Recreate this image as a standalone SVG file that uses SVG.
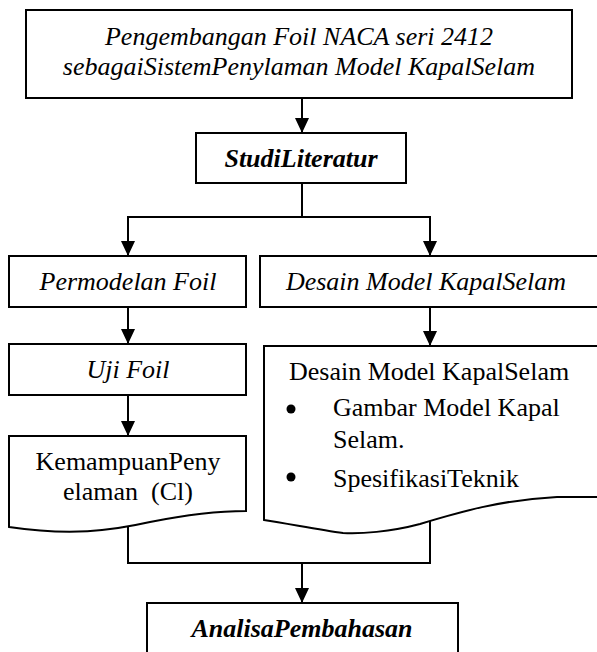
<svg xmlns="http://www.w3.org/2000/svg" width="597" height="652" viewBox="0 0 597 652">
<defs>
<style>
.box{fill:#fff;stroke:#000;stroke-width:2}
.ln{fill:none;stroke:#000;stroke-width:2}
text{font-family:"Liberation Serif","Times New Roman",serif;font-size:26px;fill:#000}
.it{font-style:italic}
.bi{font-style:italic;font-weight:bold}
.c{text-anchor:middle}
</style>
<marker id="ah" markerWidth="15" markerHeight="14" refX="15" refY="7" orient="auto" markerUnits="userSpaceOnUse" viewBox="0 0 15 14">
<path d="M0,0 L15,7 L0,14 Z" fill="#000"/>
</marker>
</defs>
<rect width="597" height="652" fill="#fff"/>
<g id="connectors">
<line class="ln" x1="302" y1="98" x2="302" y2="133" marker-end="url(#ah)"/>
<polyline class="ln" points="302,183 302,217"/>
<polyline class="ln" points="128,217 430,217"/>
<line class="ln" x1="128" y1="216" x2="128" y2="256" marker-end="url(#ah)"/>
<line class="ln" x1="430" y1="216" x2="430" y2="256" marker-end="url(#ah)"/>
<line class="ln" x1="128" y1="307" x2="128" y2="344" marker-end="url(#ah)"/>
<line class="ln" x1="430" y1="307" x2="430" y2="346" marker-end="url(#ah)"/>
<line class="ln" x1="128" y1="395" x2="128" y2="436" marker-end="url(#ah)"/>
<polyline class="ln" points="128,527 128,563 430,563 430,521"/>
<line class="ln" x1="302" y1="563" x2="302" y2="603" marker-end="url(#ah)"/>
</g>
<g id="n1">
<rect class="box" x="26" y="10" width="546" height="88"/>
<text class="it c" x="299" y="45">Pengembangan Foil NACA seri 2412</text>
<text class="it c" x="299" y="75">sebagaiSistemPenylaman Model KapalSelam</text>
</g>
<g id="n2">
<rect class="box" x="196" y="133" width="210" height="50"/>
<text class="bi c" x="301" y="167">StudiLiteratur</text>
</g>
<g id="n3">
<rect class="box" x="9" y="256" width="237" height="51"/>
<text class="it c" x="128" y="290">Permodelan Foil</text>
</g>
<g id="n4">
<rect class="box" x="260" y="256" width="345" height="51"/>
<text class="it c" x="426" y="290">Desain Model KapalSelam</text>
</g>
<g id="n5">
<rect class="box" x="9" y="344" width="237" height="51"/>
<text class="it c" x="128" y="378">Uji Foil</text>
</g>
<g id="n6">
<path class="box" d="M9,436 H246 V511 C210,511 180,516 150,522 C110,531 70,536 9,527 Z"/>
<text class="c" x="128" y="470">KemampuanPeny</text>
<text class="c" x="128" y="500">elaman&#160; (Cl)</text>
</g>
<g id="n7">
<path class="box" d="M264,346 H605 V497 H557 C500,500 460,512 420,524 C390,532 360,534 343,533 C320,530 290,524 264,520 Z"/>
<text x="289" y="380">Desain Model KapalSelam</text>
<circle cx="291" cy="409" r="4.5"/>
<text x="333" y="416">Gambar Model Kapal</text>
<text x="333" y="448">Selam.</text>
<circle cx="291" cy="477" r="4.5"/>
<text x="333" y="487">SpesifikasiTeknik</text>
</g>
<g id="n8">
<rect class="box" x="147" y="603" width="311" height="60"/>
<text class="bi c" x="302" y="637">AnalisaPembahasan</text>
</g>
</svg>
